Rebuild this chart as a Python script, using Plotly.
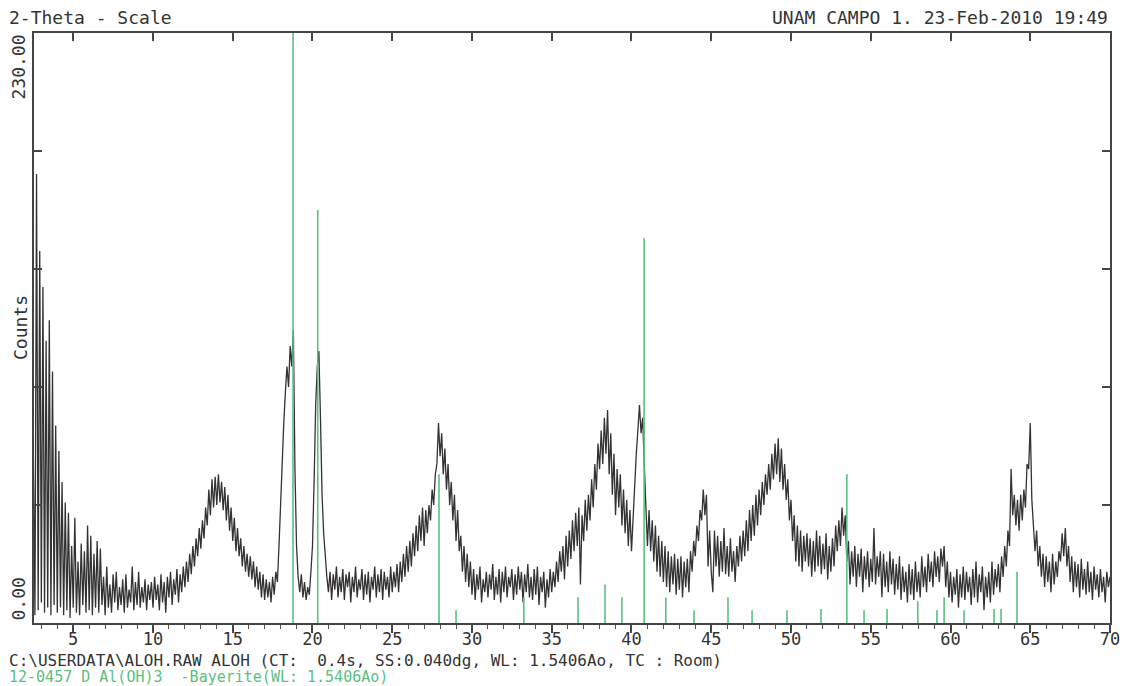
import plotly.graph_objects as go

# Scan settings: start angle and step of the 2-theta grid
TWO_THETA_START = 2.5
STEP = 0.1

# Measured counts, one row per degree of 2-theta (2.5 .. 70.0)
counts = (
    [65, 3, 175, 5, 145]
    + [8, 131, 4, 110, 6, 118, 3, 98, 7, 77]          # 3
    + [4, 67, 6, 55, 3, 47, 5, 43, 2, 30]             # 4
    + [6, 41, 4, 24, 3, 31, 7, 28, 4, 38]             # 5
    + [5, 34, 3, 27, 6, 32, 4, 29, 7, 18]             # 6
    + [3, 22, 6, 15, 4, 19, 8, 20, 5, 14]             # 7
    + [7, 17, 4, 19, 6, 13, 8, 22, 5, 16]             # 8
    + [7, 20, 6, 14, 8, 17, 5, 15, 9, 16]             # 9
    + [6, 18, 9, 15, 5, 19, 8, 16, 4, 18]             # 10
    + [10, 20, 7, 17, 11, 21, 8, 19, 12, 22]          # 11
    + [14, 24, 16, 27, 19, 30, 22, 33, 26, 37]        # 12
    + [29, 40, 33, 45, 38, 52, 42, 56, 45, 57]        # 13
    + [46, 58, 47, 55, 44, 53, 40, 50, 36, 45]        # 14
    + [32, 41, 28, 37, 26, 33, 22, 30, 20, 27]        # 15
    + [18, 26, 17, 24, 14, 22, 13, 20, 10, 19]        # 16
    + [9, 17, 10, 16, 8, 18, 11, 20, 16, 30]          # 17
    + [48, 62, 78, 90, 100, 92, 108, 100, 114, 60]    # 18
    + [30, 18, 12, 19, 10, 16, 9, 14, 11, 20]         # 19
    + [30, 55, 85, 100, 106, 80, 50, 35, 24, 18]      # 20
    + [12, 20, 9, 19, 13, 22, 10, 18, 12, 21]         # 21
    + [9, 19, 14, 20, 8, 18, 12, 22, 10, 17]          # 22
    + [13, 21, 9, 19, 11, 20, 8, 18, 13, 22]          # 23
    + [10, 19, 12, 21, 9, 20, 13, 18, 10, 22]         # 24
    + [12, 20, 14, 23, 12, 24, 16, 27, 18, 30]        # 25
    + [20, 32, 22, 35, 26, 38, 28, 42, 32, 45]        # 26
    + [30, 44, 35, 46, 40, 52, 46, 58, 62, 78]        # 27
    + [65, 74, 58, 68, 52, 62, 46, 55, 40, 50]        # 28
    + [32, 44, 28, 34, 20, 30, 16, 27, 14, 24]        # 29
    + [11, 21, 9, 19, 13, 22, 8, 17, 12, 20]          # 30
    + [10, 19, 13, 23, 9, 18, 11, 21, 8, 20]          # 31
    + [12, 22, 10, 18, 14, 21, 9, 19, 11, 22]         # 32
    + [13, 20, 8, 19, 12, 23, 10, 18, 9, 21]          # 33
    + [11, 22, 7, 18, 12, 20, 6, 17, 10, 21]          # 34
    + [12, 20, 14, 24, 16, 28, 20, 30, 17, 34]        # 35
    + [22, 36, 25, 40, 28, 43, 30, 45, 15, 42]        # 36
    + [32, 48, 36, 50, 40, 56, 45, 62, 52, 70]        # 37
    + [60, 75, 62, 80, 66, 83, 58, 74, 50, 66]        # 38
    + [42, 60, 45, 58, 38, 52, 35, 48, 30, 44]        # 39
    + [28, 42, 55, 66, 75, 85, 74, 80, 62, 45]        # 40
    + [30, 44, 28, 40, 24, 38, 20, 34, 18, 32]        # 41
    + [16, 30, 14, 28, 12, 26, 15, 27, 11, 25]        # 42
    + [13, 26, 10, 24, 14, 25, 12, 28, 20, 32]        # 43
    + [26, 38, 32, 44, 40, 52, 42, 50, 22, 36]        # 44
    + [20, 12, 36, 22, 34, 18, 32, 20, 37, 19]        # 45
    + [30, 18, 33, 20, 28, 16, 30, 22, 34, 24]        # 46
    + [36, 26, 40, 28, 44, 32, 46, 34, 50, 38]        # 47
    + [52, 42, 55, 46, 58, 50, 62, 52, 66, 56]        # 48
    + [70, 58, 72, 55, 68, 52, 62, 48, 56, 40]        # 49
    + [48, 32, 42, 24, 38, 22, 36, 20, 34, 24]        # 50
    + [35, 22, 33, 18, 32, 20, 36, 22, 34, 19]        # 51
    + [31, 21, 35, 17, 30, 20, 33, 22, 38, 28]        # 52
    + [40, 30, 45, 34, 42, 24, 32, 15, 28, 18]        # 53
    + [30, 14, 27, 18, 29, 12, 26, 17, 28, 14]        # 54
    + [25, 16, 37, 15, 26, 18, 28, 10, 27, 14]        # 55
    + [24, 12, 28, 15, 25, 11, 23, 13, 26, 9]         # 56
    + [22, 12, 20, 8, 23, 11, 21, 9, 24, 12]          # 57
    + [20, 10, 26, 14, 22, 12, 27, 16, 24, 14]        # 58
    + [28, 18, 26, 16, 29, 22, 30, 14, 24, 10]        # 59
    + [20, 8, 18, 11, 21, 6, 19, 10, 22, 9]           # 60
    + [20, 12, 18, 7, 21, 10, 24, 8, 19, 12]          # 61
    + [22, 5, 18, 10, 20, 8, 24, 11, 21, 14]          # 62
    + [23, 12, 26, 18, 30, 22, 36, 30, 60, 42]        # 63
    + [50, 38, 48, 36, 50, 40, 52, 45, 62, 60]        # 64
    + [78, 48, 38, 28, 36, 22, 30, 18, 27, 14]        # 65
    + [26, 16, 24, 12, 27, 15, 24, 18, 28, 24]        # 66
    + [35, 26, 37, 22, 30, 16, 26, 12, 24, 14]        # 67
    + [23, 10, 25, 13, 21, 11, 24, 12, 20, 9]         # 68
    + [22, 13, 19, 10, 21, 12, 18, 8, 20, 14]         # 69
    + [18]                                            # 70
)
two_theta = [round(TWO_THETA_START + STEP * i, 2) for i in range(len(counts))]

# Reference pattern 12-0457 (Bayerite): line positions and heights (full scale = 230)
ref_pos = [18.78, 20.33, 27.93, 29.0, 33.25, 36.65, 38.34, 39.4, 40.79, 42.15,
           43.92, 46.05, 47.56, 49.75, 51.88, 53.5, 54.58, 56.02, 57.95, 59.15,
           59.6, 60.85, 62.73, 63.17, 64.17]
ref_height = [230, 161, 58, 5, 10, 10, 15, 10, 150, 10,
              5, 10, 5, 5, 5.5, 58, 5, 5.5, 8.5, 5,
              10, 5, 5.5, 5.5, 20]

x_tick_vals = [5, 10, 15, 20, 25, 30, 35, 40, 45, 50, 55, 60, 65, 70]
y_tick_vals = [0, 46, 92, 138, 184, 230]

INK = "#333333"
AXIS = "#444444"
GREEN = "#5cbf80"
MONO = "DejaVu Sans Mono"
FS = 18
X_RANGE = [2.54, 70]

stick_x, stick_y = [], []
for p, h in zip(ref_pos, ref_height):
    stick_x += [p, p, None]
    stick_y += [0, h, None]

fig = go.Figure()
fig.add_trace(go.Scatter(
    x=two_theta, y=counts, mode="lines",
    line=dict(color=INK, width=1.3), showlegend=False, hoverinfo="skip"))
fig.add_trace(go.Scatter(
    x=stick_x, y=stick_y, mode="lines",
    line=dict(color=GREEN, width=1.6), showlegend=False, hoverinfo="skip"))
# empty trace to carry the top axis
fig.add_trace(go.Scatter(x=[], y=[], xaxis="x2", showlegend=False, hoverinfo="skip"))

fig.update_layout(
    width=1125, height=686,
    margin=dict(l=34, r=15, t=33, b=63, autoexpand=False),
    paper_bgcolor="white", plot_bgcolor="white",
    font=dict(family=MONO, size=FS, color=INK),
    xaxis=dict(
        range=X_RANGE, showgrid=False, zeroline=False, automargin=False,
        showline=True, linecolor=AXIS, linewidth=2,
        tickmode="array", tickvals=x_tick_vals,
        ticks="outside", ticklen=8, tickwidth=1.5, tickcolor=AXIS,
        minor=dict(dtick=1, tick0=0, ticks="outside", ticklen=4, tickcolor="#555", tickwidth=1),
        tickfont=dict(family=MONO, size=17, color=INK),
        ticklabelstandoff=-8,
    ),
    xaxis2=dict(
        range=X_RANGE, overlaying="x", side="top", showgrid=False, zeroline=False,
        automargin=False, showline=True, linecolor=AXIS, linewidth=2,
        tickmode="array", tickvals=x_tick_vals,
        ticks="inside", ticklen=8, tickwidth=1.5, tickcolor=AXIS,
        showticklabels=False,
    ),
    yaxis=dict(
        range=[0, 230], showgrid=False, zeroline=False, automargin=False,
        showline=True, linecolor=AXIS, linewidth=2, mirror="ticks",
        tickmode="array", tickvals=y_tick_vals,
        ticks="inside", ticklen=8, tickwidth=1.5, tickcolor=AXIS,
        showticklabels=False,
    ),
)

ann = []
# rotated y-axis labels
ann.append(dict(text="0.00", x=0, y=0, xref="paper", yref="y", xanchor="center",
                yanchor="bottom", xshift=-16, textangle=-90, showarrow=False,
                font=dict(family=MONO, size=FS, color=INK)))
ann.append(dict(text="230.00", x=0, y=230, xref="paper", yref="y", xanchor="center",
                yanchor="top", xshift=-16, textangle=-90, showarrow=False,
                font=dict(family=MONO, size=FS, color=INK)))
ann.append(dict(text="Counts", x=0, y=0.5, xref="paper", yref="paper", xanchor="center",
                yanchor="middle", xshift=-14, textangle=-90, showarrow=False,
                font=dict(family=MONO, size=FS, color=INK)))
# header
ann.append(dict(text="2-Theta - Scale", x=0, y=1, xref="paper", yref="paper",
                xanchor="left", yanchor="middle", xshift=-27, yshift=16, showarrow=False,
                font=dict(family=MONO, size=FS, color=INK)))
ann.append(dict(text="UNAM CAMPO 1. 23-Feb-2010 19:49", x=1, y=1, xref="paper", yref="paper",
                xanchor="right", yanchor="middle", yshift=16, showarrow=False,
                font=dict(family=MONO, size=FS, color=INK)))
# footer
ann.append(dict(text="C:\\USERDATA\\ALOH.RAW ALOH (CT:\u00a0\u00a00.4s, SS:0.040dg, WL: 1.5406Ao, TC : Room)",
                x=0, y=0, xref="paper", yref="paper", xanchor="left", yanchor="middle",
                xshift=-27, yshift=-37, showarrow=False,
                font=dict(family=MONO, size=16, color=INK)))
ann.append(dict(text="12-0457 D Al(OH)3\u00a0\u00a0-Bayerite(WL: 1.5406Ao)",
                x=0, y=0, xref="paper", yref="paper", xanchor="left", yanchor="middle",
                xshift=-27, yshift=-54, showarrow=False,
                font=dict(family=MONO, size=15, color=GREEN)))
fig.update_layout(annotations=ann)

fig.write_html("out.html")
